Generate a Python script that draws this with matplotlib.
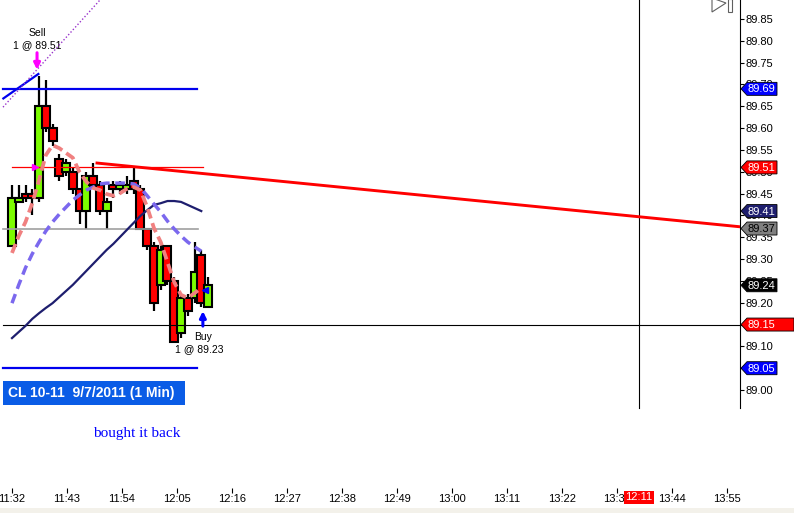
import matplotlib
matplotlib.use('Agg')
import matplotlib.pyplot as plt
from matplotlib.patches import Polygon, Rectangle
import numpy as np

plt.rcParams['font.family'] = ['Liberation Sans', 'DejaVu Sans']

# ---------------- data ----------------
bar_open  = [89.33, 89.43, 89.45, 89.45, 89.44, 89.65, 89.60, 89.53, 89.50, 89.50,
             89.46, 89.41, 89.49, 89.47, 89.41, 89.47, 89.46, 89.46, 89.48, 89.46,
             89.37, 89.33, 89.24, 89.33, 89.25, 89.13, 89.21, 89.21, 89.31, 89.19]
bar_high  = [89.47, 89.47, 89.47, 89.46, 89.72, 89.71, 89.61, 89.54, 89.53, 89.51,
             89.46, 89.50, 89.52, 89.48, 89.44, 89.48, 89.48, 89.49, 89.51, 89.47,
             89.37, 89.34, 89.34, 89.33, 89.26, 89.22, 89.22, 89.34, 89.32, 89.26]
bar_low   = [89.33, 89.43, 89.43, 89.40, 89.43, 89.59, 89.56, 89.48, 89.49, 89.45,
             89.38, 89.37, 89.46, 89.40, 89.37, 89.44, 89.45, 89.45, 89.45, 89.37,
             89.32, 89.18, 89.23, 89.24, 89.11, 89.12, 89.17, 89.20, 89.19, 89.19]
bar_close = [89.44, 89.44, 89.44, 89.44, 89.65, 89.60, 89.57, 89.49, 89.52, 89.46,
             89.41, 89.49, 89.47, 89.41, 89.43, 89.46, 89.47, 89.47, 89.46, 89.37,
             89.33, 89.20, 89.32, 89.25, 89.11, 89.21, 89.18, 89.27, 89.20, 89.24]

fast_ma = [89.314, 89.353, 89.385, 89.428, 89.481, 89.538, 89.561, 89.554, 89.543, 89.532,
           89.499, 89.477, 89.463, 89.458, 89.449, 89.445, 89.451, 89.461, 89.465, 89.458,
           89.419, 89.371, 89.339, 89.293, 89.247, 89.218, 89.211, 89.222, 89.234]
mid_ma  = [89.199, 89.241, 89.280, 89.312, 89.339, 89.364, 89.385, 89.403, 89.419, 89.435,
           89.447, 89.458, 89.465, 89.472, 89.474, 89.474, 89.474, 89.474, 89.472, 89.463,
           89.445, 89.426, 89.408, 89.387, 89.369, 89.353, 89.339, 89.328, 89.318]
slow_ma = [89.119, 89.133, 89.147, 89.163, 89.176, 89.188, 89.199, 89.213, 89.227, 89.241,
           89.257, 89.273, 89.289, 89.305, 89.321, 89.335, 89.351, 89.367, 89.383, 89.399,
           89.412, 89.424, 89.428, 89.433, 89.433, 89.431, 89.424, 89.417, 89.410]

time_ticks  = [0, 11, 22, 33, 44, 55, 66, 77, 88, 99, 110, 121, 132, 143]
time_labels = ['11:32', '11:43', '11:54', '12:05', '12:16', '12:27', '12:38', '12:49',
               '13:00', '13:11', '13:22', '13:33', '13:44', '13:55']
price_ticks = [89.00, 89.05, 89.10, 89.15, 89.20, 89.25, 89.30, 89.35, 89.40,
               89.45, 89.50, 89.55, 89.60, 89.65, 89.70, 89.75, 89.80, 89.85]

level_upper = 89.69
level_lower = 89.05
level_gray = 89.37
level_entry = 89.51
level_cross = 89.15
cross_time = 125.4
cross_label = '12:11'

trend_x = [17.0, 145.6]
trend_y = [89.52, 89.374]
blue_diag_x = [-1.73, 5.27]
blue_diag_y = [89.668, 89.724]
dot_diag_x = [-1.8, 20.0]
dot_diag_y = [89.648, 89.924]

sell_bar = 4
sell_price = 89.51
buy_bar = 28
buy_price = 89.23

tag_values = [89.69, 89.51, 89.41, 89.37, 89.24, 89.15, 89.05]
tag_face   = ['#0000FF', '#FF0000', '#1E1E6E', '#808080', '#000000', '#FF0000', '#0000FF']
tag_text   = ['white', 'white', 'white', 'black', 'white', 'white', 'white']

# ---------------- layout ----------------
W, H = 794, 513
fig = plt.figure(figsize=(W / 100, H / 100), dpi=100)
fig.patch.set_facecolor('white')
ax_bottom_px = 488
ax = fig.add_axes([0, (H - ax_bottom_px) / H, 740 / W, ax_bottom_px / H])
ax.set_facecolor('white')
ppm = 5.0  # pixels per minute
ppp = 436.5  # pixels per price unit
ax.set_xlim(-12 / ppm, (740 - 12) / ppm)
ax.set_ylim(89.85 - (ax_bottom_px - 19) / ppp, 89.85 + 19 / ppp)

bar_step = 6.76 / ppm
n = len(bar_open)
bx = np.arange(n) * bar_step

# candles
body_w = 1.6
for i in range(n):
    ax.plot([bx[i], bx[i]], [bar_low[i], bar_high[i]], color='black', lw=1.6,
            zorder=2, solid_capstyle='butt')
for i in range(n):
    o, c = bar_open[i], bar_close[i]
    col = '#7CFC00' if c >= o else '#FF0000'
    lo, hi = min(o, c), max(o, c)
    hgt = max(hi - lo, 0.004)
    ax.add_patch(Rectangle((bx[i] - body_w / 2, lo), body_w, hgt, facecolor=col,
                           edgecolor='black', lw=1.5, zorder=3))

# level lines
xl, xr = -1.8, 37.0
ax.plot([xl, xr], [level_upper] * 2, color='#0000EE', lw=1.6, zorder=4)
ax.plot([xl, xr], [level_lower] * 2, color='#0000EE', lw=1.6, zorder=4)
ax.plot([xl, xr + 0.2], [level_gray] * 2, color='#A0A0A0', lw=1.2, zorder=4)
ax.plot([0, 38.2], [level_entry] * 2, color='#FF0000', lw=0.9, zorder=4)
ax.plot([xl, 145.6], [level_cross] * 2, color='black', lw=0.8, zorder=4)
ax.plot([cross_time] * 2, [89.85 - 389 / ppp, 90.0], color='black', lw=0.8, zorder=4)

# moving averages
ax.plot(bx[:len(slow_ma)], slow_ma, color='#1E1E6E', lw=1.6, zorder=5)
ax.plot(bx[:len(mid_ma)], mid_ma, color='#7B68EE', lw=2.5, zorder=5,
        linestyle=(0, (2.8, 1.6)), dash_capstyle='butt')
ax.plot(bx[:len(fast_ma)], fast_ma, color='#F08080', lw=2.7, zorder=6,
        linestyle=(0, (2.6, 1.3)), dash_capstyle='butt')

# drawings
ax.plot(trend_x, trend_y, color='#FF0000', lw=2.1, zorder=6)
ax.plot(blue_diag_x, blue_diag_y, color='#0000EE', lw=1.6, zorder=6)
ax.plot(dot_diag_x, dot_diag_y, color='#9933CC', lw=1.0, linestyle=(0, (1, 1.5)), zorder=6)

# executions
ax.plot([bx[sell_bar] - 4.5 / ppm], [sell_price], marker='>', color='#FF00FF', ms=5, zorder=7)
ax.plot([bx[buy_bar] + 3.5 / ppm], [buy_price], marker='<', color='#0000FF', ms=5, zorder=7)

sx = bx[sell_bar] - 2 / ppm
ax.annotate('', xy=(sx, bar_high[sell_bar] + 6 / ppp), xytext=(sx, bar_high[sell_bar] + 23 / ppp),
            arrowprops=dict(arrowstyle='-|>', color='#FF00FF', lw=2.2, mutation_scale=9,
                            shrinkA=0, shrinkB=0), zorder=7)
ax.text(sx, bar_high[sell_bar] + 43 / ppp, 'Sell', ha='center', va='center', fontsize=7.5)
ax.text(sx, bar_high[sell_bar] + 31 / ppp, '1 @ 89.51', ha='center', va='center', fontsize=7.5)

ux = bx[buy_bar] + 1.6 / ppm
ax.annotate('', xy=(ux, bar_low[buy_bar] - 4 / ppp), xytext=(ux, bar_low[buy_bar] - 19 / ppp),
            arrowprops=dict(arrowstyle='-|>', color='#0000FF', lw=2.2, mutation_scale=9,
                            shrinkA=0, shrinkB=0), zorder=7)
ax.text(ux, bar_low[buy_bar] - 30 / ppp, 'Buy', ha='center', va='center', fontsize=7.5)
ax.text(ux - 4 / ppm, bar_low[buy_bar] - 42 / ppp, '1 @ 89.23', ha='center', va='center', fontsize=7.5)

# axes styling
for s in ['top', 'left', 'bottom']:
    ax.spines[s].set_visible(False)
ax.spines['right'].set_bounds(89.85 - 389 / ppp, 89.95)
ax.spines['right'].set_linewidth(0.8)
ax.yaxis.tick_right()
ax.set_yticks(price_ticks)
ax.set_yticklabels([f'{v:.2f}' for v in price_ticks])
ax.tick_params(axis='y', direction='out', length=3, width=0.8, pad=1, labelsize=8)
ax.set_xticks(time_ticks)
ax.set_xticklabels(time_labels)
ax.tick_params(axis='x', direction='out', length=3.5, width=0.8, pad=1, labelsize=8)

# ---------------- overlay ----------------
ov = fig.add_axes([0, 0, 1, 1])
ov.set_xlim(0, W)
ov.set_ylim(H, 0)
ov.axis('off')
ov.set_zorder(5)
ov.patch.set_alpha(0)

fig.canvas.draw()


def px_y(price):
    return H - ax.transData.transform((0, price))[1]


def px_x(t):
    return ax.transData.transform((t, 0))[0]


for v, fc, tc in zip(tag_values, tag_face, tag_text):
    y = px_y(v)
    x0 = 741
    x1 = 794 if v == level_cross else 777
    pts = [(x0, y), (x0 + 6, y - 6.5), (x1, y - 6.5), (x1, y + 6.5), (x0 + 6, y + 6.5)]
    ov.add_patch(Polygon(pts, closed=True, facecolor=fc, edgecolor='black', lw=0.6))
    ov.text(x0 + 7, y + 0.5, f'{v:.2f}', color=tc, fontsize=8, va='center', ha='left')

# crosshair time tag
cx = px_x(cross_time)
ov.add_patch(Rectangle((cx - 15, 491), 30, 13, facecolor='#FF0000', edgecolor='none'))
ov.text(cx, 497.5, cross_label, color='white', fontsize=8, ha='center', va='center')

# title box
ov.add_patch(Rectangle((3, 381), 182, 24, facecolor='#0A5CE6', edgecolor='none'))
ov.text(8, 393.5, 'CL 10-11  9/7/2011 (1 Min)', color='white', fontsize=10,
        fontweight='bold', ha='left', va='center')

# note
ov.text(93, 434, 'bought it back', color='#0000FF', fontsize=11,
        family=['Liberation Serif', 'DejaVu Serif'], ha='left', va='center')

# top-right icon
ov.add_patch(Polygon([(712, -2), (726, 3), (712, 12)], closed=True, facecolor='white',
                     edgecolor='#606060', lw=0.8))
ov.add_patch(Rectangle((728, -1), 3.5, 13, facecolor='white', edgecolor='#606060', lw=0.8))

# bottom strip
ov.add_patch(Rectangle((0, 508), W, 5, facecolor='#F3F1EA', edgecolor='none'))

fig.savefig('out.png', dpi=100, facecolor='white')
